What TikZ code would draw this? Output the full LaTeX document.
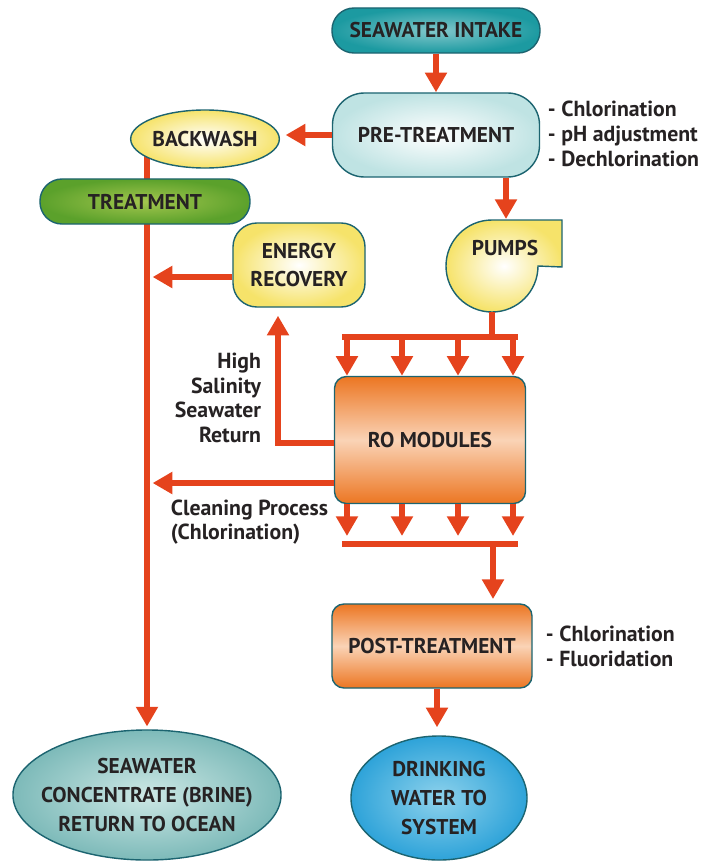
\documentclass[tikz,border=0pt]{standalone}
\usepackage{fontspec}
\setmainfont{PT Sans}
\usepackage{tikz}
\usetikzlibrary{arrows.meta,positioning,shapes.geometric,backgrounds}
\definecolor{flowRed}{HTML}{E5431D}
\definecolor{edgeTeal}{HTML}{1C6470}
\definecolor{inkGrey}{HTML}{262223}
\definecolor{intakeTeal}{HTML}{1C9AA1}
\definecolor{paleTeal}{HTML}{BFE3E3}
\definecolor{sunYellow}{HTML}{F6E36A}
\definecolor{leafGreen}{HTML}{5BA12B}
\definecolor{limeGreen}{HTML}{A3C64E}
\definecolor{roOrange}{HTML}{EC7622}
\definecolor{peach}{HTML}{FAD3B6}
\definecolor{brineTeal}{HTML}{7DBAB9}
\definecolor{brineLight}{HTML}{CDE8E5}
\definecolor{skyBlue}{HTML}{2EA3D9}
\definecolor{skyLight}{HTML}{8ED2EC}

\begin{document}
\begin{tikzpicture}[
  x=0.025cm, y=0.025cm,
  boxtext/.style={align=center, text=inkGrey, font=\fontsize{15.2}{20.5}\selectfont\bfseries},
  box/.style={boxtext, draw=edgeTeal, line width=1pt},
  pill/.style={box, rounded corners=0.55cm, minimum height=1.125cm},
  tank/.style={box, rounded corners=0.8cm, inner color=white, outer color=paleTeal},
  yel/.style={box, inner color=white, outer color=sunYellow},
  unit/.style={box, rounded corners=0.3cm, top color=roOrange, bottom color=roOrange, middle color=peach},
  outlet/.style={box, ellipse, inner xsep=-0.45cm, inner ysep=-0.1cm},
  note/.style={align=left, text=inkGrey, font=\fontsize{15.5}{17.6}\selectfont\bfseries},
  arr/.style={-{Triangle[width=15pt,length=14pt]}, line width=3.6pt, draw=flowRed},
  pipe/.style={line width=3.6pt, draw=flowRed}
]
  \useasboundingbox (0,0) rectangle (721,-862);

  \node[pill, minimum width=5.2cm, inner color=intakeTeal!55!white, outer color=intakeTeal] (intake) at (436,-30.5) {SEAWATER INTAKE};
  \node[tank, minimum width=5.175cm, minimum height=2.1cm] (pre) at (436,-135) {PRE-TREATMENT};
  \node[note, anchor=west] (prenote) at (543,-134) {- Chlorination\\- pH adjustment\\- Dechlorination};
  \node[yel, ellipse, inner sep=0pt, minimum width=3.4cm, minimum height=1.45cm] (wash) at (205,-139) {BACKWASH};
  \node[yel, rounded corners=0.6cm, minimum width=3.3cm, minimum height=2.1cm] (energy) at (299,-265) {ENERGY\\RECOVERY};

  % pump casing
  \path[draw=edgeTeal, line width=1pt, inner color=white, outer color=sunYellow]
    (492,-220) -- (562,-220) -- (562,-267) -- (538,-266) arc[start angle=0, end angle=-270, radius=46] -- cycle;
  \node[boxtext] (pumps) at (505,-248) {PUMPS};
  \coordinate (pumptop) at (506,-219);
  \coordinate (pumpbot) at (492,-312);

  \node[unit, minimum width=4.775cm, minimum height=3.175cm] (ro) at (430,-440) {RO MODULES};
  \node[unit, minimum width=5cm, minimum height=2.1cm] (post) at (432,-646) {POST-TREATMENT};
  \node[note, anchor=west] (postnote) at (541,-646) {- Chlorination\\- Fluoridation};
  \node[outlet, minimum width=6.7cm, minimum height=3.25cm, inner color=brineLight, outer color=brineTeal] (brine) at (147,-795) {SEAWATER\\CONCENTRATE (BRINE)\\RETURN TO OCEAN};
  \node[outlet, minimum width=4.4cm, minimum height=3.1cm, inner color=skyLight, outer color=skyBlue] (drink) at (439,-798) {DRINKING\\WATER TO\\SYSTEM};

  \node[note, align=right, anchor=east] (hsr) at (266,-398) {High\\Salinity\\Seawater\\Return};
  \node[note, anchor=west] (clean) at (166,-522) {Cleaning Process\\(Chlorination)};

  % brine main line behind backwash and treatment
  \begin{scope}[on background layer]
    \draw[arr, shorten >=2pt] (wash.center -| brine.north) -- (brine.north);
  \end{scope}
  \node[pill, minimum width=5.25cm, inner color=limeGreen, outer color=leafGreen] (treat) at (145,-201.5) {TREATMENT};

  \coordinate (erout) at ([yshift=-0.3cm]energy.west);
  \coordinate (erin) at ([xshift=-0.525cm]energy.south);
  \coordinate (hsout) at ([yshift=-0.075cm]ro.west);
  \coordinate (cpout) at ([yshift=-1.075cm]ro.west);
  \coordinate (inbar) at (430,-337);
  \coordinate (outbar) at (430,-544);
  \coordinate (postin) at (493,-544);
  \coordinate (postout) at ([xshift=0.125cm]post.south);

  \draw[arr] (intake) -- (pre);
  \draw[arr, shorten >=4pt] (pre.west) -- (pre.west -| wash.east);
  \draw[arr, shorten >=4pt] (erout) -- (erout -| brine.north);
  \draw[arr] (pre.south -| pumptop) -- (pumptop);
  \draw[pipe] (pumpbot) -- (pumpbot |- inbar);
  \draw[pipe] ([xshift=-2.2cm]inbar) -- ([xshift=2.2cm]inbar);
  \foreach \dx [count=\i] in {-2.075,-0.7,0.7,2.075} {
    \coordinate (in\i) at ([xshift=\dx cm]inbar);
    \draw[arr] (in\i) -- (in\i |- ro.north);
    \coordinate (out\i) at ([xshift=\dx cm]ro.south);
    \draw[arr, shorten >=0.2cm] (out\i) -- (out\i |- outbar);
  }
  \draw[arr, shorten >=0.2cm] (hsout) -| (erin);
  \draw[arr, shorten >=4pt] (cpout) -- (cpout -| brine.north);
  \draw[pipe] ([xshift=-2.2cm]outbar) -- ([xshift=2.2cm]outbar);
  \draw[arr, shorten >=3pt] (postin) -- (postin |- post.north);
  \draw[arr, shorten >=0.2cm] (postout) -- (postout |- drink.north);
\end{tikzpicture}
\end{document}
